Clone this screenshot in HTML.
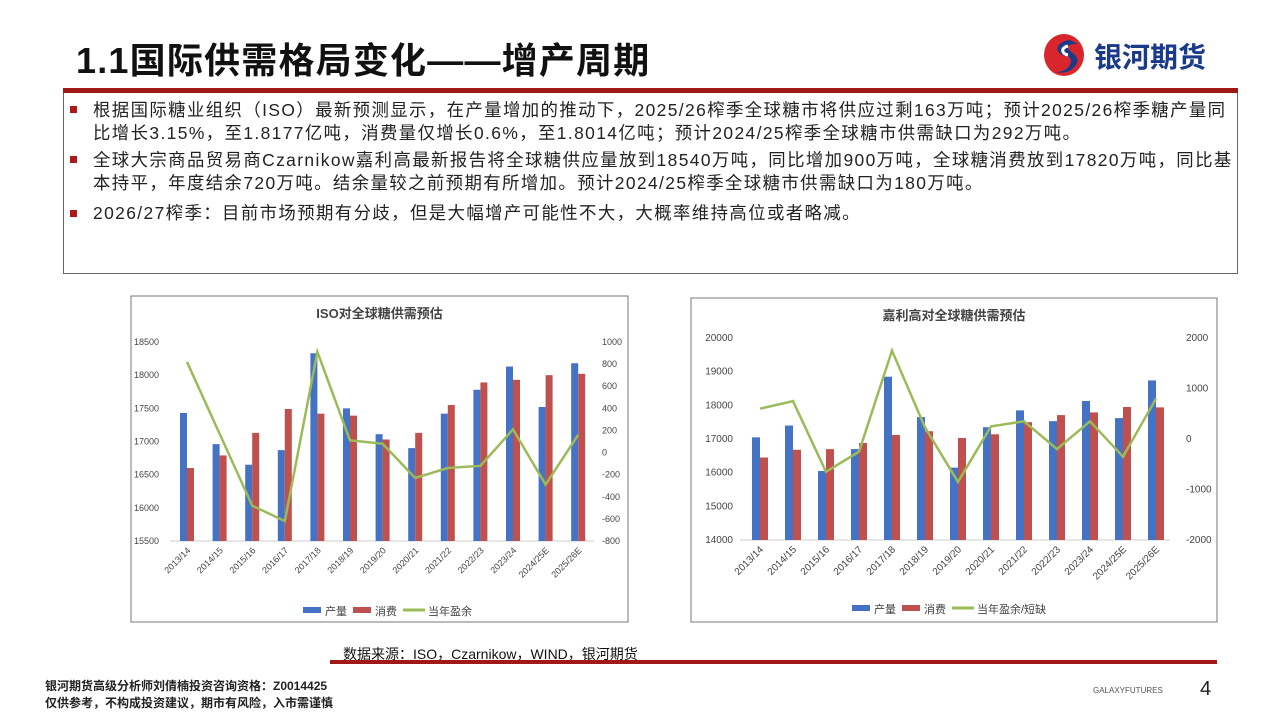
<!DOCTYPE html>
<html><head><meta charset="utf-8">
<style>
body{margin:0;width:1280px;height:720px;background:#fff;position:relative;overflow:hidden;font-family:"Liberation Sans","Noto Sans CJK SC",sans-serif}
.t{position:absolute;left:76px;top:32px;font-size:36px;font-weight:bold;color:#111;letter-spacing:1.2px}
.logo{position:absolute;left:1094px;top:36px;font-size:28px;font-weight:bold;color:#1a3a8a}
.bar{position:absolute;left:63px;top:88px;width:1175px;height:5px;background:#a01818}
.box{position:absolute;left:63px;top:93px;width:1173px;height:180px;border:1px solid #666;border-top:none}
.p{position:absolute;left:93px;font-size:17.4px;color:#222;line-height:23px;width:1180px;letter-spacing:1.4px;white-space:nowrap}
.sq{position:absolute;left:70px;width:7px;height:7px;background:#b01818}
.src{position:absolute;left:343px;top:644px;font-size:14px;color:#111}
.rl{position:absolute;left:330px;top:660px;width:887px;height:4px;background:#a01818}
.f{position:absolute;left:45px;font-size:12px;font-weight:bold;color:#222}
svg text{font-family:"Liberation Sans","Noto Sans CJK SC",sans-serif}
</style></head><body>
<div class="t">1.1国际供需格局变化——增产周期</div>
<svg style="position:absolute;left:1040px;top:32px" width="50" height="46"><ellipse cx="24" cy="23" rx="20" ry="21" fill="#d8262c"/><path d="M30 8 C14 10 14 22 26 24 C36 26 30 40 16 40 C30 44 44 30 34 22 C26 16 24 12 38 12 Z" fill="#1a3a8a"/><path d="M28 14 C20 16 22 22 28 23" stroke="#fff" stroke-width="3" fill="none"/></svg>
<div class="logo">银河期货</div>
<div class="bar"></div>
<div class="box"></div>
<div class="sq" style="top:106px"></div><div class="p" style="top:99px">根据国际糖业组织（ISO）最新预测显示，在产量增加的推动下，2025/26榨季全球糖市将供应过剩163万吨；预计2025/26榨季糖产量同<br>比增长3.15%，至1.8177亿吨，消费量仅增长0.6%，至1.8014亿吨；预计2024/25榨季全球糖市供需缺口为292万吨。</div>
<div class="sq" style="top:156px"></div><div class="p" style="top:149px">全球大宗商品贸易商Czarnikow嘉利高最新报告将全球糖供应量放到18540万吨，同比增加900万吨，全球糖消费放到17820万吨，同比基<br>本持平，年度结余720万吨。结余量较之前预期有所增加。预计2024/25榨季全球糖市供需缺口为180万吨。</div>
<div class="sq" style="top:210px"></div><div class="p" style="top:202px">2026/27榨季：目前市场预期有分歧，但是大幅增产可能性不大，大概率维持高位或者略减。</div>
<svg id="c" style="position:absolute;left:0;top:0" width="1280" height="720"></svg>
<div class="src">数据来源：ISO，Czarnikow，WIND，银河期货</div>
<div class="rl"></div>
<div class="f" style="top:677px">银河期货高级分析师刘倩楠投资咨询资格：Z0014425</div>
<div class="f" style="top:694px">仅供参考，不构成投资建议，期市有风险，入市需谨慎</div>
<div style="position:absolute;left:1093px;top:686px;font-size:8px;color:#555">GALAXYFUTURES</div>
<div style="position:absolute;left:1200px;top:678px;font-size:20px;color:#222">4</div>
<script>
var cats=["2013/14","2014/15","2015/16","2016/17","2017/18","2018/19","2019/20","2020/21","2021/22","2022/23","2023/24","2024/25E","2025/26E"];
var s="";
function chart(o){
 s+='<rect x="'+o.bx+'" y="'+o.by+'" width="'+o.bw+'" height="'+o.bh+'" fill="#fff" stroke="#777"/>';
 s+='<text x="'+(o.bx+o.bw/2)+'" y="'+(o.by+22)+'" text-anchor="middle" font-size="13" font-weight="bold" fill="#444">'+o.title+'</text>';
 var Y=function(v){return o.y1+(o.y0-o.y1)*(v-o.lmin)/(o.lmax-o.lmin)};
 var R=function(v){return o.y1+(o.y0-o.y1)*(v-o.rmin)/(o.rmax-o.rmin)};
 for(var v=o.lmin;v<=o.lmax;v+=o.lstep){s+='<text x="'+o.lx+'" y="'+(Y(v)+3)+'" text-anchor="end" font-size="'+o.fs+'" fill="#444">'+v+'</text>';}
 for(var v=o.rmin;v<=o.rmax;v+=o.rstep){s+='<text x="'+o.rx+'" y="'+(R(v)+3)+'" text-anchor="start" font-size="'+o.fs+'" fill="#444">'+v+'</text>';}
 s+='<line x1="'+o.ax0+'" x2="'+o.ax1+'" y1="'+o.y1+'" y2="'+o.y1+'" stroke="#ccc"/>';
 var pts=[];
 for(var i=0;i<13;i++){var c=o.c0+i*o.sp;
  s+='<rect x="'+(c-o.w)+'" y="'+Y(o.p[i])+'" width="'+o.w+'" height="'+(o.y1-Y(o.p[i]))+'" fill="#4472c4"/>';
  s+='<rect x="'+c+'" y="'+Y(o.q[i])+'" width="'+o.w+'" height="'+(o.y1-Y(o.q[i]))+'" fill="#c0504d"/>';
  pts.push(c+','+R(o.g[i]));
  s+='<text transform="translate('+(c+4)+','+(o.y1+10)+') rotate(-45)" text-anchor="end" font-size="'+o.fs+'" fill="#444">'+cats[i]+'</text>';
 }
 s+='<polyline points="'+pts.join(' ')+'" fill="none" stroke="#9bbb59" stroke-width="2.5"/>';
 var ly=o.legy,lx=o.legx;
 s+='<rect x="'+lx+'" y="'+(ly-4)+'" width="18" height="6" fill="#4472c4"/><text x="'+(lx+22)+'" y="'+(ly+4)+'" font-size="11" fill="#444">产量</text>';
 s+='<rect x="'+(lx+50)+'" y="'+(ly-4)+'" width="18" height="6" fill="#c0504d"/><text x="'+(lx+72)+'" y="'+(ly+4)+'" font-size="11" fill="#444">消费</text>';
 s+='<line x1="'+(lx+100)+'" x2="'+(lx+122)+'" y1="'+(ly-1)+'" y2="'+(ly-1)+'" stroke="#9bbb59" stroke-width="3"/><text x="'+(lx+125)+'" y="'+(ly+4)+'" font-size="11" fill="#444">'+o.gl+'</text>';
}
chart({bx:131,by:296,bw:497,bh:326,title:"ISO对全球糖供需预估",y0:342,y1:541,lmin:15500,lmax:18500,lstep:500,rmin:-800,rmax:1000,rstep:200,lx:159,rx:602,fs:9,ax0:170,ax1:594,c0:187,sp:32.6,w:7,
 p:[17430,16960,16650,16870,18330,17500,17110,16900,17420,17780,18130,17520,18180],
 q:[16600,16790,17130,17490,17420,17390,17030,17130,17550,17890,17930,18000,18020],
 g:[820,170,-480,-620,910,110,80,-230,-140,-120,210,-290,160],legy:611,legx:303,gl:"当年盈余"});
chart({bx:691,by:298,bw:526,bh:324,title:"嘉利高对全球糖供需预估",y0:338,y1:540,lmin:14000,lmax:20000,lstep:1000,rmin:-2000,rmax:2000,rstep:1000,lx:733,rx:1186,fs:10,ax0:740,ax1:1170,c0:760,sp:33,w:8,
 p:[17050,17400,16050,16700,18850,17650,16150,17350,17850,17530,18130,17620,18740],
 q:[16450,16680,16700,16880,17120,17230,17030,17140,17500,17710,17790,17950,17940],
 g:[600,750,-650,-250,1750,230,-850,250,350,-200,350,-350,800],legy:609,legx:852,gl:"当年盈余/短缺"});
document.getElementById('c').innerHTML=s;
</script>
</body></html>
